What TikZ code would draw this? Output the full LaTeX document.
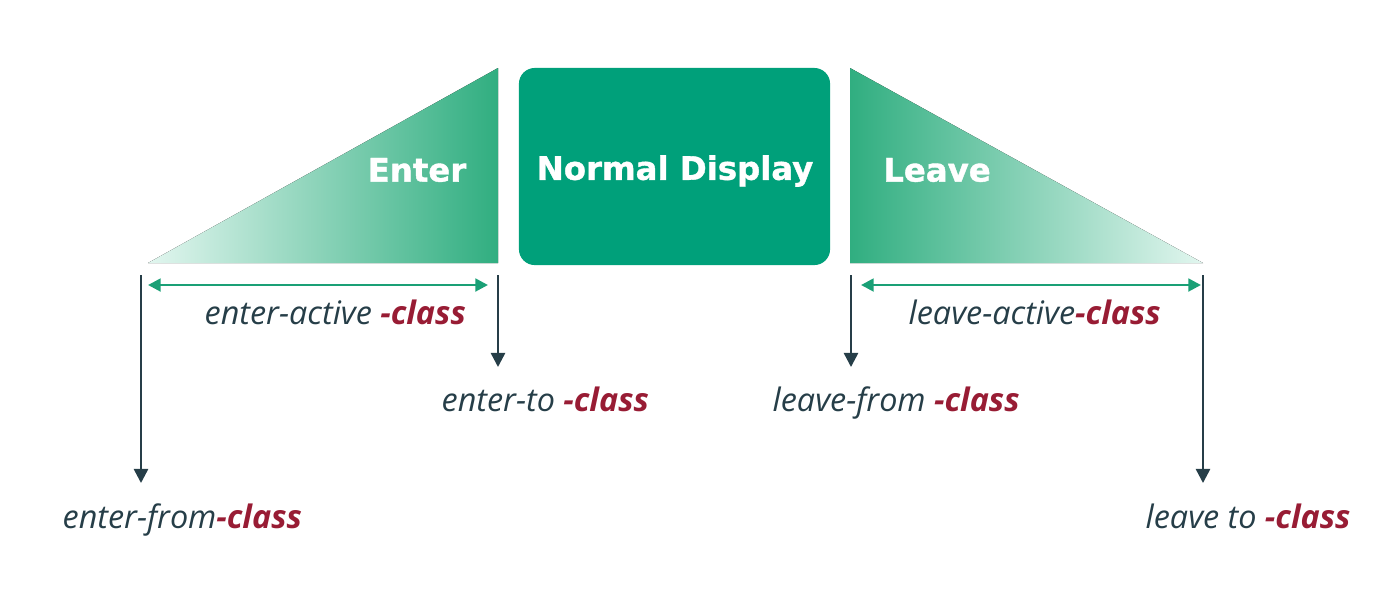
\documentclass[tikz,border=0pt]{standalone}
\usepackage{fontspec}
\usetikzlibrary{arrows.meta}
\newfontfamily\boxfont[BoldFeatures={FakeBold=1.2}]{DejaVu Sans}
\newfontfamily\lblfont[BoldFeatures={FakeBold=1}]{Open Sans}
\definecolor{boxgreen}{RGB}{0,160,122}
\definecolor{lightend}{RGB}{226,246,239}
\definecolor{darkend}{RGB}{48,174,128}
\definecolor{slate}{RGB}{38,62,72}
\definecolor{clsred}{RGB}{152,28,52}
\definecolor{arrowgreen}{RGB}{26,160,118}
\tikzset{
  boxtext/.style={text=white,font=\boxfont\bfseries\fontsize{9.2}{11}\selectfont,inner sep=0pt},
  lbl/.style={text=slate,font=\lblfont\itshape\fontsize{9.2}{11}\selectfont,inner sep=0pt,anchor=base west},
  vline/.style={draw=slate,line width=0.7pt},
  varrow/.style={vline,-{Triangle[length=4pt,width=4pt]}},
  garrow/.style={draw=arrowgreen,line width=0.8pt,{Triangle[length=3.6pt,width=3.6pt]}-{Triangle[length=3.6pt,width=3.6pt]}}
}
\newcommand{\cls}{\textcolor{clsred}{\bfseries -class}}
\begin{document}
\begin{tikzpicture}[x=0.01cm,y=-0.01cm]
\useasboundingbox (0,0) rectangle (1400,593);
% triangles
\fill[left color=lightend,right color=darkend] (148,263) -- (498,68) -- (498,263) -- cycle;
\fill[left color=darkend,right color=lightend] (850,68) -- (850,263) -- (1203,263) -- cycle;
% box
\node[fill=boxgreen,rounded corners=4.5pt,minimum width=311*0.2845pt,minimum height=197*0.2845pt,inner sep=0pt] (box) at (674.5,166.5) {};
\node[boxtext] (normal) at (675,171) {Normal Display};
\node[boxtext] (enter) at (417,170) {Enter};
\node[boxtext] (leave) at (937,170) {Leave};
% coordinates
\coordinate (efTop) at (141,275);
\coordinate (efTip) at (141,483);
\coordinate (etTop) at (498,275);
\coordinate (etTip) at (498,367);
\coordinate (lfTop) at (851,275);
\coordinate (lfTip) at (851,367);
\coordinate (ltTop) at (1203,275);
\coordinate (ltTip) at (1203,483);
\coordinate (eaL) at (148,285);
\coordinate (eaR) at (488,285);
\coordinate (laL) at (861,285);
\coordinate (laR) at (1201,285);
% lines
\draw[varrow] (efTop) -- (efTip);
\draw[varrow] (etTop) -- (etTip);
\draw[varrow] (lfTop) -- (lfTip);
\draw[varrow] (ltTop) -- (ltTip);
\draw[garrow] (eaL) -- (eaR);
\draw[garrow] (laL) -- (laR);
% labels
\node[lbl] (ea) at (204,324) {enter-active \cls};
\node[lbl] (et) at (441,411) {enter-to \cls};
\node[lbl] (ef) at (62,528) {enter-from\cls};
\node[lbl] (la) at (908,324) {leave-active\cls};
\node[lbl] (lf) at (772,411) {leave-from \cls};
\node[lbl] (lt) at (1145,528) {leave to \cls};
\end{tikzpicture}
\end{document}
